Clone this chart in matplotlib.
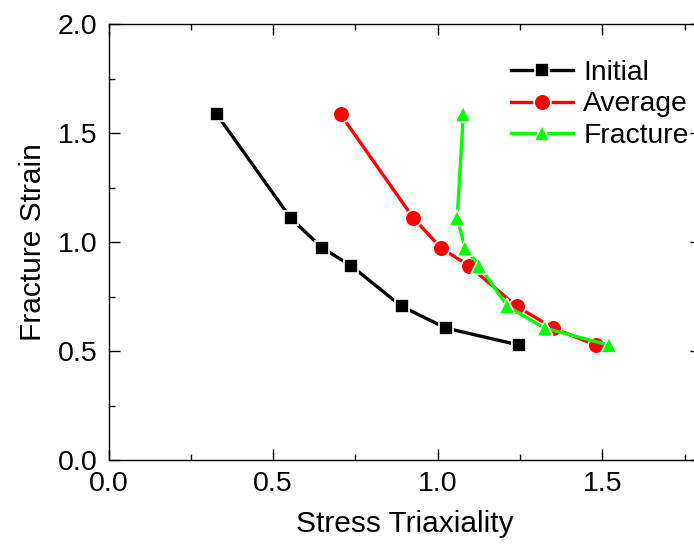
import numpy as np
import matplotlib
matplotlib.use("Agg")
from matplotlib import pyplot as plt
from matplotlib.ticker import MultipleLocator

# Fracture strain vs stress triaxiality for three evaluation methods
strain = [1.585, 1.11, 0.973, 0.892, 0.705, 0.605, 0.527]
triax_initial = [0.329, 0.553, 0.649, 0.736, 0.890, 1.025, 1.248]
triax_average = [0.705, 0.926, 1.010, 1.094, 1.240, 1.351, 1.481]
triax_fracture = [1.078, 1.059, 1.083, 1.126, 1.212, 1.325, 1.521]

plt.rcParams['font.family'] = ['Liberation Sans', 'DejaVu Sans']
plt.rcParams['font.size'] = 20.5

fig = plt.figure(figsize=(6.94, 5.44), dpi=100)
ax = fig.add_axes([108.6 / 694, 84 / 544, (701 - 108.6) / 694, 436 / 544])

ax.plot(triax_initial, strain, '-s', color='black', lw=2.4, ms=10,
        mec='white', mew=1.2, label='Initial')
ax.plot(triax_average, strain, '-o', color='#ff0000', lw=2.4, ms=12,
        mec='white', mew=1.2, label='Average')
ax.plot(triax_fracture, strain, '-^', color='#00ff00', lw=2.4, ms=12,
        mec='white', mew=1.2, label='Fracture')

ax.set_xlim(0, 1.8)
ax.set_ylim(0, 2.0)
ax.xaxis.set_major_locator(MultipleLocator(0.5))
ax.xaxis.set_minor_locator(MultipleLocator(0.25))
ax.yaxis.set_major_locator(MultipleLocator(0.5))
ax.yaxis.set_minor_locator(MultipleLocator(0.25))
ax.tick_params(which='both', direction='in', top=True, right=True, width=1.0)
ax.tick_params(which='major', length=8, pad=8)
ax.tick_params(which='minor', length=4)
for s in ax.spines.values():
    s.set_linewidth(1.0)

ax.set_xlabel('Stress Triaxiality', fontsize=21.5, labelpad=9)
ax.set_ylabel('Fracture Strain', fontsize=21.5, labelpad=8)

ax.legend(loc='upper left', bbox_to_anchor=(0.68, 0.918), frameon=False,
          fontsize=20.3, handlelength=2.2, handletextpad=0.35,
          labelspacing=0.2, borderpad=0, borderaxespad=0)

fig.savefig('out.png', dpi=100)
